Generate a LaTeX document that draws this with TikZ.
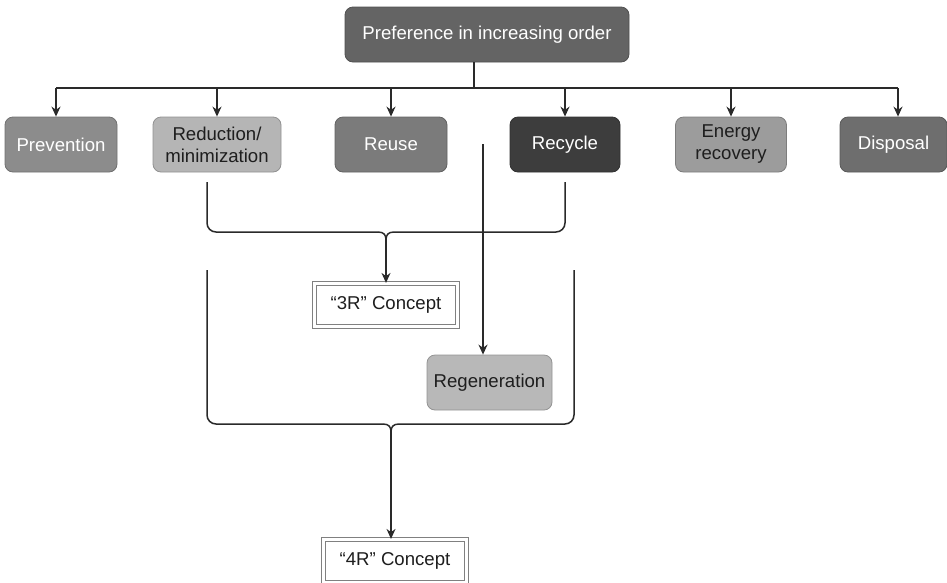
\documentclass[tikz,border=0pt]{standalone}
\usepackage{fontspec}
\setmainfont{Liberation Sans}
\usetikzlibrary{arrows.meta}
\definecolor{cTop}{HTML}{646464}
\definecolor{cPrev}{HTML}{8C8C8C}
\definecolor{cRed}{HTML}{B5B5B5}
\definecolor{cReuse}{HTML}{7B7B7B}
\definecolor{cRec}{HTML}{3D3D3D}
\definecolor{cEn}{HTML}{9C9C9C}
\definecolor{cDis}{HTML}{6E6E6E}
\definecolor{cReg}{HTML}{B8B8B8}
\definecolor{cLine}{HTML}{2A2A2A}
\definecolor{cDark}{HTML}{1E1E1E}
\tikzset{
  box/.style={rounded corners=8pt, draw=#1!80!black, fill=#1, line width=0.8pt,
    minimum height=55pt, align=center, inner sep=2pt,
    font=\fontsize{18.6}{22}\selectfont},
  wtext/.style={text=white},
  dtext/.style={text=cDark},
  dbl/.style={draw=gray, line width=1.2pt, double=white, double distance=2.2pt,
    minimum height=43pt, minimum width=143pt, fill=white, font=\fontsize{18.6}{22}\selectfont, text=cDark},
  ln/.style={draw=cLine, line width=1.5pt},
  arr/.style={ln, -{Stealth[length=10pt,width=9pt]}},
}
\begin{document}
\begin{tikzpicture}[x=1pt,y=-1pt]
\useasboundingbox (0,0) rectangle (947,582);
% top
\node[box=cTop, wtext, minimum width=284pt] (top) at (487,34.5) {Preference in increasing order};
% second row
\node[box=cPrev, wtext, minimum width=112pt] (prev) at (61,144.5) {Prevention};
\node[box=cRed, dtext, minimum width=128pt] (red) at (217,144.5) {Reduction/\\minimization};
\node[box=cReuse, wtext, minimum width=112pt] (reuse) at (391,144.5) {Reuse};
\node[box=cRec, wtext, minimum width=110pt] (rec) at (565,144.5) {Recycle};
\node[box=cEn, dtext, minimum width=111pt] (en) at (731,144.5) {Energy\\recovery};
\node[box=cDis, wtext, minimum width=107pt] (dis) at (893.5,144.5) {Disposal};
% bus
\coordinate (stem) at (474,88);
\draw[ln] (top.south -| stem) -- (stem);
\coordinate (busL) at (56,88);
\coordinate (busR) at (898,88);
\draw[ln] (busL) -- (busR);
\draw[arr] (busL) -- (busL |- prev.north);
\draw[arr] (red.north |- stem) -- (red.north);
\draw[arr] (reuse.north |- stem) -- (reuse.north);
\draw[arr] (rec.north |- stem) -- (rec.north);
\draw[arr] (en.north |- stem) -- (en.north);
\draw[arr] (busR) -- (busR |- dis.north);
% 3R
\node[dbl] (r3) at (386,305) {\textquotedblleft3R\textquotedblright\ Concept};
\coordinate (b1L) at (207,182);
\coordinate (b1R) at (565,182);
\coordinate (b1T) at (386,240);
\draw[ln, rounded corners=9pt] (b1L) -- (207,232) -- (378,232);
\draw[ln, rounded corners=9pt] (b1R) -- (565,232) -- (394,232);
\draw[ln] (378,232) .. controls (384,232) and (386,235) .. (b1T);
\draw[ln] (394,232) .. controls (388,232) and (386,235) .. (b1T);
\draw[arr] (b1T) -- (r3.north -| b1T);
% Regeneration
\node[box=cReg, dtext, minimum width=125pt] (reg) at (489.5,382.5) {Regeneration};
\coordinate (rgS) at (483,144);
\draw[arr] (rgS) -- (rgS |- reg.north);
% 4R
\node[dbl] (r4) at (395,561) {\textquotedblleft4R\textquotedblright\ Concept};
\coordinate (b2L) at (207,270);
\coordinate (b2R) at (574,270);
\coordinate (b2T) at (391,432);
\draw[ln, rounded corners=9pt] (b2L) -- (207,424) -- (383,424);
\draw[ln, rounded corners=9pt] (b2R) -- (574,424) -- (399,424);
\draw[ln] (383,424) .. controls (389,424) and (391,427) .. (b2T);
\draw[ln] (399,424) .. controls (393,424) and (391,427) .. (b2T);
\draw[arr] (b2T) -- (r4.north -| b2T);
\end{tikzpicture}
\end{document}
